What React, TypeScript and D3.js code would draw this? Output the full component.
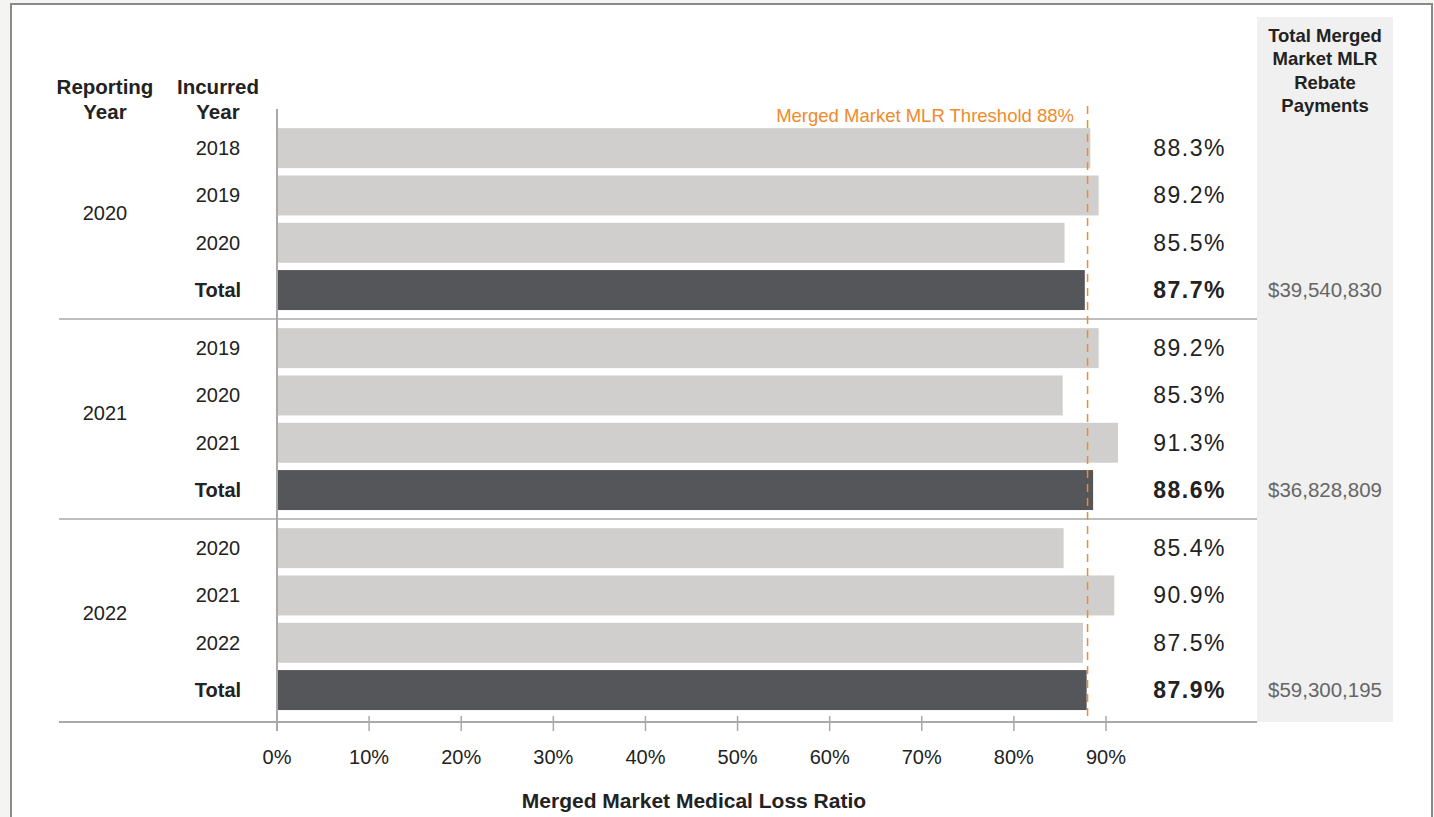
import React from "react";
import * as d3 from "d3";

const reportingYears = ["2020", "2021", "2022"];
const incurredYears = [
  ["2018", "2019", "2020", "Total"],
  ["2019", "2020", "2021", "Total"],
  ["2020", "2021", "2022", "Total"],
];
const mlrValues = [
  [88.3, 89.2, 85.5, 87.7],
  [89.2, 85.3, 91.3, 88.6],
  [85.4, 90.9, 87.5, 87.9],
];
const rebatePayments = ["$39,540,830", "$36,828,809", "$59,300,195"];
const xTicks = [0, 10, 20, 30, 40, 50, 60, 70, 80, 90];
const threshold = 88;
const thresholdLabel = "Merged Market MLR Threshold 88%";
const xAxisTitle = "Merged Market Medical Loss Ratio";
const rebateHeader = ["Total Merged", "Market MLR", "Rebate", "Payments"];

const FONT = "'Liberation Sans', Arial, Helvetica, sans-serif";

export default function App() {
  const W = 1434;
  const H = 817;
  const x = d3.scaleLinear().domain([0, 90]).range([277, 1106]);
  const groupScale = d3.scaleBand<number>().domain([0, 1, 2]).range([119, 719]).padding(0);
  const rowScale = d3
    .scaleBand<number>()
    .domain([0, 1, 2, 3])
    .range([5.5, 5.5 + 4 * 47.3])
    .paddingInner(0.155)
    .paddingOuter(0.0775);
  const bw = rowScale.bandwidth();
  const axisY = 722;
  const lineColor = "#a9a9a9";

  return (
    <div style={{ position: "absolute", left: 0, top: 0 }}>
      <svg width={W} height={H} style={{ display: "block", fontFamily: FONT }}>
        <rect x={0} y={0} width={W} height={H} fill="#f4f4f2" />
        <rect x={11} y={4} width={1421} height={860} fill="#ffffff" stroke="#8a8a8a" strokeWidth={2} />

        {/* rebate column background */}
        <rect x={1257} y={17} width={136} height={axisY - 17} fill="#f0f0f0" />
        {rebateHeader.map((t, i) => (
          <text key={t} x={1325} y={42 + i * 23.3} textAnchor="middle" fontSize={18.5} fontWeight="bold" fill="#222">
            {t}
          </text>
        ))}

        {/* left headers */}
        <text x={105} y={94} textAnchor="middle" fontSize={20.5} fontWeight="bold" fill="#222">Reporting</text>
        <text x={105} y={119} textAnchor="middle" fontSize={20.5} fontWeight="bold" fill="#222">Year</text>
        <text x={218} y={94} textAnchor="middle" fontSize={20.5} fontWeight="bold" fill="#222">Incurred</text>
        <text x={218} y={119} textAnchor="middle" fontSize={20.5} fontWeight="bold" fill="#222">Year</text>

        {reportingYears.map((ry, g) => {
          const gTop = groupScale(g) as number;
          const gMid = gTop + groupScale.bandwidth() / 2;
          return (
            <g key={ry}>
              <text x={105} y={gMid - 6 + 7} textAnchor="middle" fontSize={20} fill="#222">{ry}</text>
              {mlrValues[g].map((v, i) => {
                const isTotal = i === 3;
                const yTop = gTop + (rowScale(i) as number);
                const yMid = yTop + bw / 2;
                return (
                  <g key={i}>
                    <rect x={x(0)} y={yTop} width={x(v) - x(0)} height={bw} fill={isTotal ? "#55565a" : "#d0cfcd"} />
                    <text x={218} y={yMid + 7} textAnchor="middle" fontSize={20} fontWeight={isTotal ? "bold" : "normal"} fill="#222">
                      {incurredYears[g][i]}
                    </text>
                    <text x={1226} y={yMid + 8} textAnchor="end" fontSize={23} letterSpacing={1.5} fontWeight={isTotal ? "bold" : "normal"} fill="#222">
                      {v.toFixed(1)}%
                    </text>
                    {isTotal && (
                      <text x={1325} y={yMid + 7} textAnchor="middle" fontSize={20.5} fill="#666">
                        {rebatePayments[g]}
                      </text>
                    )}
                  </g>
                );
              })}
              {g > 0 && <line x1={59} x2={1257} y1={gTop} y2={gTop} stroke={lineColor} strokeWidth={1.5} />}
            </g>
          );
        })}

        {/* axes */}
        <line x1={59} x2={1257} y1={axisY} y2={axisY} stroke={lineColor} strokeWidth={2} />
        <line x1={x(0)} x2={x(0)} y1={109} y2={731} stroke={lineColor} strokeWidth={2} />
        {xTicks.map((t) => (
          <g key={t}>
            {t > 0 && <line x1={x(t)} x2={x(t)} y1={716} y2={731} stroke={lineColor} strokeWidth={1.5} />}
            <text x={x(t)} y={764} textAnchor="middle" fontSize={20} fill="#222">{t}%</text>
          </g>
        ))}
        <text x={694} y={808} textAnchor="middle" fontSize={21} fontWeight="bold" fill="#222">{xAxisTitle}</text>

        {/* threshold */}
        <line x1={x(threshold)} x2={x(threshold)} y1={106} y2={axisY} stroke="#f08a2b" strokeWidth={1.5} strokeDasharray="8,6" />
        <text x={1074} y={122} textAnchor="end" fontSize={18.5} fill="#f08a2b">{thresholdLabel}</text>
      </svg>
    </div>
  );
}
